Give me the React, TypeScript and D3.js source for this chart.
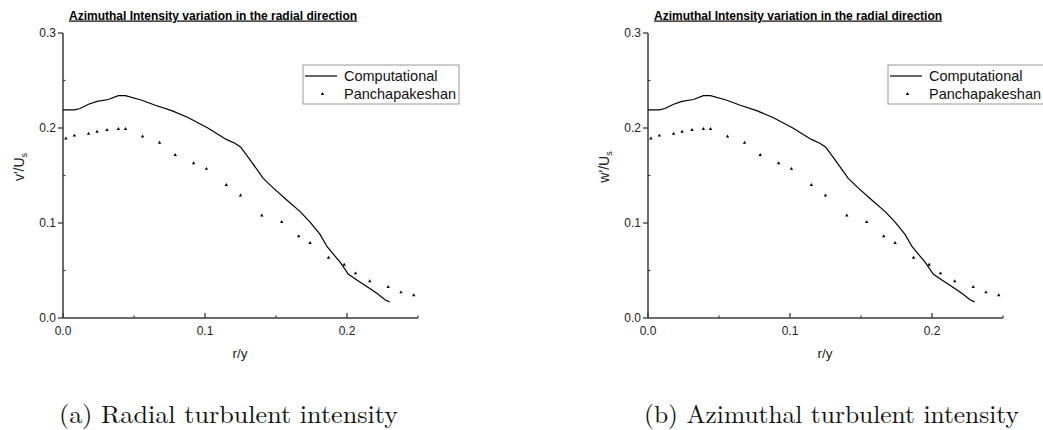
import React from "react";
import * as d3 from "d3";

// Computational curve (r/y, intensity)
const compX = [0.0, 0.008, 0.012, 0.018, 0.024, 0.032, 0.039, 0.044, 0.055, 0.065, 0.077, 0.088, 0.102, 0.115, 0.121, 0.125, 0.132, 0.141, 0.148, 0.157, 0.167, 0.174, 0.181, 0.186, 0.195, 0.201, 0.208, 0.215, 0.221, 0.227, 0.23];
const compY = [0.219, 0.219, 0.2205, 0.225, 0.228, 0.23, 0.234, 0.234, 0.2295, 0.224, 0.218, 0.211, 0.2, 0.188, 0.184, 0.18, 0.166, 0.147, 0.137, 0.125, 0.112, 0.101, 0.088, 0.075, 0.059, 0.046, 0.039, 0.032, 0.026, 0.019, 0.017];

// Panchapakeshan experimental points
const expX = [0.002, 0.008, 0.018, 0.024, 0.031, 0.039, 0.044, 0.056, 0.068, 0.079, 0.092, 0.101, 0.115, 0.125, 0.14, 0.154, 0.166, 0.174, 0.187, 0.198, 0.206, 0.216, 0.229, 0.238, 0.247];
const expY = [0.189, 0.192, 0.194, 0.196, 0.198, 0.199, 0.199, 0.191, 0.1845, 0.1716, 0.163, 0.157, 0.14, 0.129, 0.108, 0.101, 0.086, 0.079, 0.0635, 0.056, 0.047, 0.0386, 0.0326, 0.027, 0.024];

const xTicks = [0.0, 0.1, 0.2];
const xMinor = [0.05, 0.15, 0.25];
const yTicks = [0.0, 0.1, 0.2, 0.3];
const yMinor = [0.05, 0.15, 0.25];

const titleText = "Azimuthal Intensity variation in the radial direction";
const legendLabels = ["Computational", "Panchapakeshan"];
const panels = [
  { prime: "v'", caption: "(a) Radial turbulent intensity", capWidth: 339, dx: 0 },
  { prime: "w'", caption: "(b) Azimuthal turbulent intensity", capWidth: 375, dx: 585 },
];

const SANS = "Arial, 'Liberation Sans', sans-serif";
const AXC = "#3a3a3a";

function Panel({ prime, caption, capWidth, dx }: { prime: string; caption: string; capWidth: number; dx: number }) {
  const x = d3.scaleLinear().domain([0, 0.25]).range([63, 418]);
  const y = d3.scaleLinear().domain([0, 0.3]).range([318, 33]);
  const line = d3
    .line<number>()
    .x((_, i) => x(compX[i]))
    .y((d) => y(d))
    .curve(d3.curveLinear);
  const tri = d3.symbol().type(d3.symbolTriangle).size(5)();
  return (
    <g transform={`translate(${dx},0)`}>
      <text x={69} y={19.5} fontFamily={SANS} fontWeight="bold" fontSize={12} textDecoration="underline" fill="#000">
        {titleText}
      </text>
      {/* axes */}
      <line x1={x(0)} x2={x(0)} y1={y(0.3)} y2={y(0)} stroke={AXC} strokeWidth={1.5} />
      <line x1={x(0)} x2={x(0.25)} y1={y(0)} y2={y(0)} stroke={AXC} strokeWidth={1.5} />
      {yTicks.map((t) => (
        <g key={"y" + t}>
          <line x1={x(0) - 5} x2={x(0)} y1={y(t)} y2={y(t)} stroke={AXC} strokeWidth={1.3} />
          <text x={56} y={y(t) + 4.3} textAnchor="end" fontFamily={SANS} fontSize={12} fill="#222">
            {t.toFixed(1)}
          </text>
        </g>
      ))}
      {yMinor.map((t) => (
        <line key={"ym" + t} x1={x(0)} x2={x(0) + 2.5} y1={y(t)} y2={y(t)} stroke={AXC} strokeWidth={1.2} />
      ))}
      {xTicks.map((t) => (
        <g key={"x" + t}>
          <line x1={x(t)} x2={x(t)} y1={y(0)} y2={y(0) - 5} stroke={AXC} strokeWidth={1.3} />
          <text x={x(t)} y={335} textAnchor="middle" fontFamily={SANS} fontSize={12} fill="#222">
            {t.toFixed(1)}
          </text>
        </g>
      ))}
      {xMinor.map((t) => (
        <line key={"xm" + t} x1={x(t)} x2={x(t)} y1={y(0)} y2={y(0) - 2.5} stroke={AXC} strokeWidth={1.2} />
      ))}
      <text x={240} y={358} textAnchor="middle" fontFamily={SANS} fontSize={13.5} fill="#222">
        r/y
      </text>
      <text transform="translate(24,167) rotate(-90)" textAnchor="middle" fontFamily={SANS} fontSize={14} fill="#222">
        {prime}/U
        <tspan fontSize={9} dy={3}>s</tspan>
      </text>
      {/* data */}
      <path d={line(compY) || ""} fill="none" stroke="#000" strokeWidth={1.2} />
      {expY.map((v, i) => (
        <path key={"p" + i} d={tri || ""} transform={`translate(${x(expX[i])},${y(v)})`} fill="#000" />
      ))}
      {/* legend */}
      <rect x={303} y={65} width={156} height={39} fill="#fff" stroke="#999" strokeWidth={1} />
      <line x1={305} x2={337} y1={76} y2={76} stroke="#000" strokeWidth={1.2} />
      <text x={344} y={80.5} fontFamily={SANS} fontSize={14.5} fill="#111">
        {legendLabels[0]}
      </text>
      <path d={tri || ""} transform="translate(322.5,94)" fill="#000" />
      <text x={344} y={99} fontFamily={SANS} fontSize={14.5} fill="#111">
        {legendLabels[1]}
      </text>
      {/* caption */}
      <text x={59} y={423} fontFamily="'Latin Modern Roman', 'Liberation Serif', 'DejaVu Serif', serif" fontSize={25} textLength={capWidth} lengthAdjust="spacingAndGlyphs" fill="#111">
        {caption}
      </text>
    </g>
  );
}

export default function App() {
  return (
    <svg width={1043} height={430} style={{ position: "absolute", left: 0, top: 0, background: "#fff" }}>
      <rect width={1043} height={430} fill="#fff" />
      {panels.map((p) => (
        <Panel key={p.prime} {...p} />
      ))}
    </svg>
  );
}
